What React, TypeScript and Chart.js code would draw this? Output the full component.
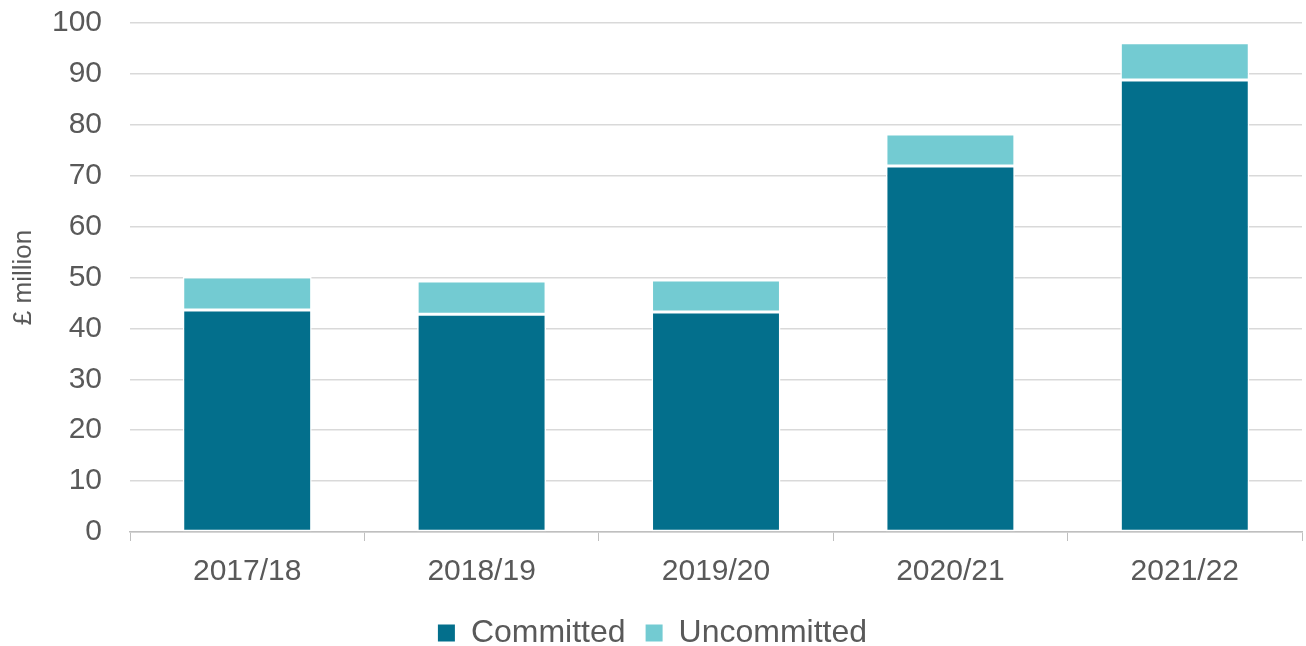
import React, { useEffect, useRef } from "react";
import { Chart, registerables } from "chart.js";

Chart.register(...registerables);

const categories = ["2017/18", "2018/19", "2019/20", "2020/21", "2021/22"];
const committed = [43.6, 42.8, 43.2, 71.9, 88.8];
const uncommitted = [6.5, 6.5, 6.3, 6.3, 7.3];
const yTicks = [0, 10, 20, 30, 40, 50, 60, 70, 80, 90, 100];

const legendShift = {
  id: "legendShift",
  afterLayout(chart: any) {
    const lg = chart.legend;
    if (lg) {
      lg.top += 13;
      lg.bottom += 13;
    }
  },
};

export default function App() {
  const ref = useRef<HTMLCanvasElement | null>(null);
  useEffect(() => {
    if (!ref.current) return;
    const font = "'Liberation Sans', Arial, sans-serif";
    const chart = new Chart(ref.current, {
      type: "bar",
      plugins: [legendShift],
      data: {
        labels: categories,
        datasets: [
          {
            label: "Committed",
            data: committed,
            backgroundColor: "#036F8C",
            borderColor: "#ffffff",
            borderWidth: 1.5,
            borderSkipped: false,
            barPercentage: 0.55,
            categoryPercentage: 1,
          },
          {
            label: "Uncommitted",
            data: uncommitted,
            backgroundColor: "#73CBD2",
            borderColor: "#ffffff",
            borderWidth: 1.5,
            borderSkipped: false,
            barPercentage: 0.55,
            categoryPercentage: 1,
          },
        ],
      },
      options: {
        animation: false,
        responsive: false,
        maintainAspectRatio: false,
        layout: { padding: { top: 23, right: 4, left: 3, bottom: 0 } },
        plugins: {
          tooltip: { enabled: false },
          legend: {
            position: "bottom",
            labels: {
              font: { family: font, size: 32 },
              color: "#595959",
              boxWidth: 17,
              boxHeight: 17,
              padding: 20,
              generateLabels: (c: any) =>
                c.data.datasets.map((d: any, i: number) => ({
                  text: d.label,
                  fillStyle: d.backgroundColor,
                  strokeStyle: d.backgroundColor,
                  lineWidth: 0,
                  fontColor: "#595959",
                  datasetIndex: i,
                  hidden: false,
                })),
            },
          },
        },
        scales: {
          x: {
            stacked: true,
            afterFit: (axis: any) => {
              axis.height = 52;
              axis.paddingLeft = 0;
              axis.paddingRight = 0;
            },
            grid: {
              offset: true,
              drawOnChartArea: false,
              drawTicks: true,
              tickLength: 9,
              color: "#bfbfbf",
            },
            border: { color: "#bfbfbf", width: 1.5 },
            ticks: {
              font: { family: font, size: 30 },
              color: "#595959",
              padding: 13,
            },
          },
          y: {
            stacked: true,
            min: 0,
            max: 100,
            afterBuildTicks: (axis: any) => {
              axis.ticks = yTicks.map((v) => ({ value: v }));
            },
            afterFit: (axis: any) => {
              axis.width = 127;
              axis.paddingTop = 0;
              axis.paddingBottom = 0;
            },
            grid: { color: "#d9d9d9", lineWidth: 1.5, drawTicks: false },
            border: { display: false },
            ticks: {
              font: { family: font, size: 30 },
              color: "#595959",
              padding: 28,
            },
            title: {
              display: true,
              text: "£ million",
              font: { family: font, size: 26 },
              color: "#595959",
              padding: { top: 5, bottom: 0 },
            },
          },
        },
      },
    });
    return () => chart.destroy();
  }, []);
  return (
    <div style={{ position: "fixed", left: 0, top: 0, width: 1306, height: 646, background: "#fff" }}>
      <canvas ref={ref} width={1306} height={646} style={{ width: 1306, height: 646 }} />
    </div>
  );
}
